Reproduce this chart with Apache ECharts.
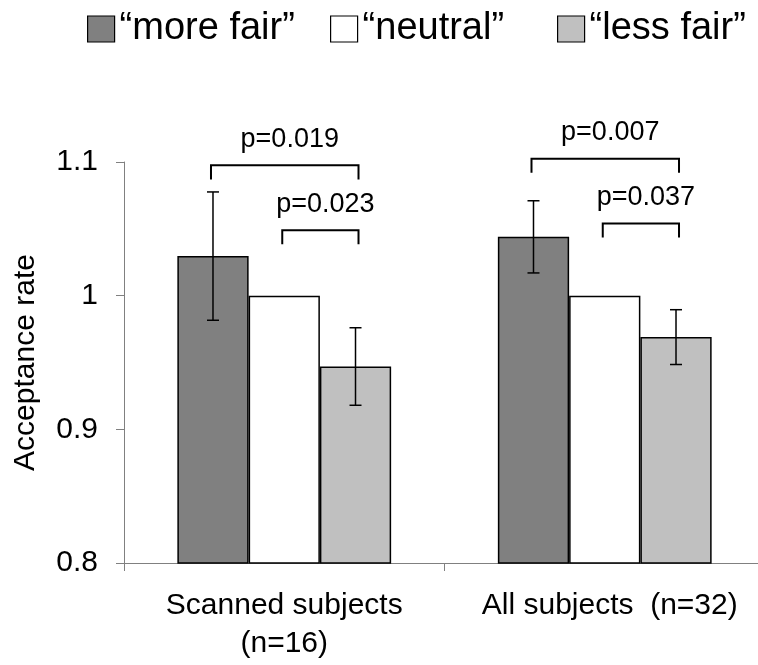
<!DOCTYPE html>
<html>
<head>
<meta charset="utf-8">
<script src="https://cdn.jsdelivr.net/npm/echarts@6/dist/echarts.min.js"></script>
<style>html,body{margin:0;padding:0;background:#fff;overflow:hidden;}#c{width:765px;height:665px;}</style>
</head>
<body>
<div id="c"></div>
<script>
var categories = ['Scanned subjects\n(n=16)', 'All subjects  (n=32)'];
var seriesNames = ['\u201cmore fair\u201d', '\u201cneutral\u201d', '\u201cless fair\u201d'];
var moreFair = [1.0296, 1.044];
var neutral = [1.0, 1.0];
var lessFair = [0.947, 0.969];
var moreFairErr = [0.048, 0.027];
var neutralErr = [0, 0];
var lessFairErr = [0.029, 0.0205];
var yTicks = [0.8, 0.9, 1.0, 1.1];
// brackets: group index, from bar, to bar, level, label
var bracketGroup = [0, 0, 1, 1];
var bracketFrom = [0, 1, 0, 1];
var bracketTo = [2, 2, 2, 2];
var bracketLevel = [1.0975, 1.049, 1.1025, 1.054];
var bracketLabels = ['p=0.019', 'p=0.023', 'p=0.007', 'p=0.037'];

var colors = ['#808080', '#ffffff', '#c0c0c0'];
var values = [moreFair, neutral, lessFair];
var errs = [moreFairErr, neutralErr, lessFairErr];
var GAP = 0.333;

var chart = echarts.init(document.getElementById('c'));
var sans = '"Liberation Sans", Arial, sans-serif';

function barWidth(api) {
  var band = api.size([1, 0])[0];
  return band * (1 - GAP) / 3;
}

var series = [];
for (var s = 0; s < 3; s++) {
  series.push({
    name: seriesNames[s], type: 'bar', data: values[s],
    barGap: 0, barCategoryGap: (GAP * 100) + '%',
    itemStyle: { color: colors[s], borderColor: '#000', borderWidth: 1.5 },
    emphasis: { disabled: true }, silent: true
  });
}
// error bars
var errData = [];
for (var s2 = 0; s2 < 3; s2++) {
  for (var g = 0; g < categories.length; g++) {
    if (errs[s2][g] > 0) errData.push([g, values[s2][g], errs[s2][g], s2]);
  }
}
series.push({
  type: 'custom', silent: true, z: 5,
  data: errData,
  renderItem: function (params, api) {
    var g = api.value(0), v = api.value(1), e = api.value(2), s = api.value(3);
    var bw = barWidth(api);
    var c = api.coord([g, v]);
    var x = c[0] + (s - 1) * bw;
    var top = api.coord([g, v + e])[1];
    var bot = api.coord([g, v - e])[1];
    var cap = 6;
    var st = { stroke: '#000', lineWidth: 1.5 };
    return { type: 'group', children: [
      { type: 'line', shape: { x1: x, y1: top, x2: x, y2: bot }, style: st },
      { type: 'line', shape: { x1: x - cap, y1: top, x2: x + cap, y2: top }, style: st },
      { type: 'line', shape: { x1: x - cap, y1: bot, x2: x + cap, y2: bot }, style: st }
    ]};
  }
});
// brackets
var brData = [];
for (var b = 0; b < bracketGroup.length; b++) {
  brData.push([bracketGroup[b], bracketLevel[b], bracketFrom[b], bracketTo[b]]);
}
series.push({
  type: 'custom', silent: true, z: 6, clip: false,
  data: brData,
  renderItem: function (params, api) {
    var g = api.value(0), lv = api.value(1), f = api.value(2), t = api.value(3);
    var label = bracketLabels[params.dataIndex];
    var bw = barWidth(api);
    var c = api.coord([g, lv]);
    var x1 = c[0] + (f - 1) * bw - 2, x2 = c[0] + (t - 1) * bw + 3;
    var y = c[1];
    var yLeg = api.coord([g, lv - 0.0105])[1];
    var st = { stroke: '#000', lineWidth: 2, fill: null };
    return { type: 'group', children: [
      { type: 'polyline', shape: { points: [[x1, yLeg], [x1, y], [x2, y], [x2, yLeg]] }, style: st },
      { type: 'text', x: (x1 + x2) / 2 + 5, y: y - 26,
        style: { text: label, fill: '#000', font: '27px ' + sans, align: 'center', verticalAlign: 'middle' } }
    ]};
  }
});

var legendBase = {
  itemWidth: 27, itemHeight: 26, itemGap: 0, icon: 'rect', top: 5,
  selectedMode: false,
  itemStyle: { borderColor: '#000', borderWidth: 1.2 },
  textStyle: { fontFamily: sans, fontSize: 38, color: '#000' }
};
function leg(name, left) {
  var o = {}; for (var k in legendBase) o[k] = legendBase[k];
  o.data = [name]; o.left = left; return o;
}

chart.setOption({
  animation: false,
  backgroundColor: '#fff',
  legend: [leg(seriesNames[0], 82), leg(seriesNames[1], 325), leg(seriesNames[2], 552)],
  grid: { left: 124, top: 162, height: 401, width: 641, containLabel: false },
  xAxis: {
    type: 'category', data: categories,
    axisLine: { lineStyle: { color: '#808080', width: 1 } },
    axisTick: { show: true, length: 8, lineStyle: { color: '#808080' } },
    axisLabel: { interval: 0, fontFamily: sans, fontSize: 30, color: '#000', lineHeight: 38, margin: 24,
      formatter: function (v, i) { return i === 1 ? '{r|' + v + '}' : v; },
      rich: { r: { fontFamily: sans, fontSize: 30, color: '#000', lineHeight: 38, padding: [0, 0, 0, 10] } } }
  },
  yAxis: {
    type: 'value', min: yTicks[0], max: yTicks[yTicks.length - 1], interval: 0.1,
    name: 'Acceptance rate', nameLocation: 'middle', nameGap: 83, nameRotate: 90,
    nameTextStyle: { fontFamily: sans, fontSize: 30, color: '#000' },
    splitLine: { show: false },
    axisLine: { show: true, lineStyle: { color: '#808080', width: 1 } },
    axisTick: { show: true, length: 8, lineStyle: { color: '#808080' } },
    axisLabel: { fontFamily: sans, fontSize: 30, color: '#000', margin: 26,
      formatter: function (v) { return String(+v.toFixed(1)); } }
  },
  series: series
});
</script>
</body>
</html>
